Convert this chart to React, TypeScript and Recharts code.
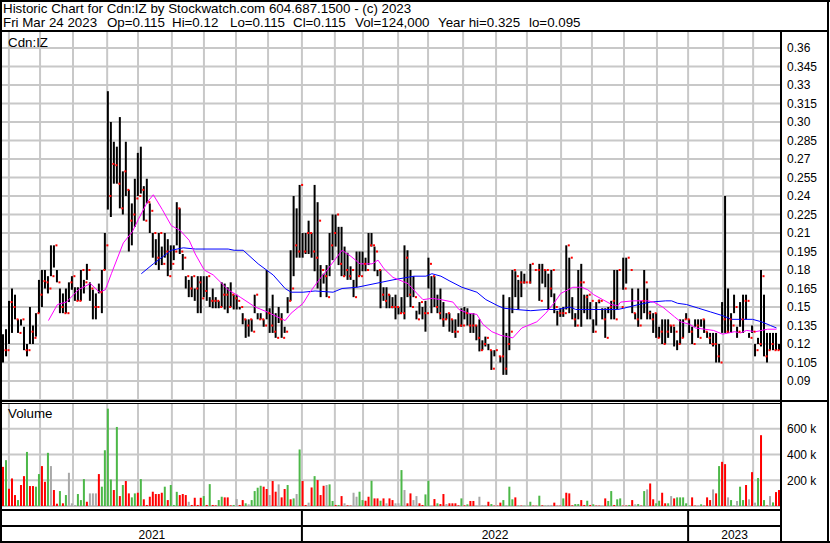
import React from 'react';
import { ComposedChart, Bar, Line, Scatter, XAxis, YAxis, CartesianGrid, Cell } from 'recharts';

const FONT = "'Liberation Sans', Arial, sans-serif";

// ---- price bars (one bar per ~2 trading days, Mar 2021 - Mar 2023) ----
const highs = [
  0.128,0.132,0.155,0.165,0.160,0.140,0.140,0.134,0.120,0.150,
  0.135,0.145,0.172,0.180,0.180,0.175,0.200,0.200,0.180,0.165,
  0.161,0.165,0.170,0.175,0.166,0.166,0.180,0.172,0.185,0.170,
  0.164,0.161,0.169,0.180,0.210,0.325,0.300,0.284,0.280,0.304,
  0.260,0.284,0.245,0.234,0.254,0.275,0.280,0.248,0.254,0.234,
  0.210,0.205,0.210,0.199,0.210,0.205,0.200,0.200,0.235,0.230,
  0.193,0.175,0.172,0.175,0.165,0.175,0.175,0.175,0.175,0.158,
  0.165,0.158,0.155,0.170,0.169,0.166,0.170,0.160,0.160,0.150,
  0.145,0.140,0.140,0.140,0.160,0.145,0.145,0.140,0.180,0.149,
  0.160,0.145,0.150,0.145,0.134,0.158,0.196,0.240,0.230,0.249,
  0.210,0.210,0.220,0.210,0.249,0.235,0.184,0.177,0.184,0.210,
  0.225,0.225,0.215,0.215,0.199,0.194,0.183,0.172,0.195,0.195,
  0.195,0.190,0.210,0.210,0.199,0.180,0.180,0.166,0.166,0.160,
  0.158,0.160,0.150,0.158,0.200,0.196,0.180,0.175,0.147,0.154,
  0.150,0.155,0.190,0.175,0.175,0.160,0.165,0.154,0.145,0.145,
  0.140,0.140,0.145,0.149,0.150,0.149,0.145,0.145,0.135,0.140,
  0.123,0.126,0.120,0.115,0.115,0.110,0.110,0.160,0.129,0.158,
  0.180,0.179,0.172,0.179,0.177,0.170,0.185,0.180,0.180,0.185,
  0.185,0.180,0.177,0.180,0.161,0.147,0.149,0.150,0.200,0.190,
  0.158,0.145,0.180,0.185,0.160,0.160,0.154,0.140,0.154,0.156,
  0.149,0.149,0.150,0.155,0.180,0.180,0.150,0.190,0.190,0.180,
  0.165,0.145,0.165,0.155,0.180,0.165,0.147,0.145,0.145,0.134,
  0.140,0.140,0.140,0.135,0.134,0.123,0.140,0.140,0.145,0.140,
  0.134,0.140,0.140,0.140,0.140,0.130,0.129,0.129,0.129,0.120,
  0.154,0.240,0.165,0.145,0.160,0.134,0.154,0.160,0.160,0.129,
  0.135,0.120,0.125,0.180,0.160,0.129,0.129,0.129,0.129,0.120,
];
const lows = [
  0.105,0.110,0.120,0.129,0.140,0.129,0.135,0.115,0.110,0.120,
  0.120,0.126,0.145,0.150,0.165,0.161,0.175,0.182,0.170,0.145,
  0.145,0.145,0.154,0.164,0.155,0.155,0.155,0.161,0.172,0.155,
  0.140,0.140,0.161,0.145,0.180,0.229,0.223,0.250,0.250,0.230,
  0.225,0.240,0.195,0.200,0.215,0.240,0.242,0.220,0.234,0.210,
  0.190,0.184,0.180,0.184,0.190,0.175,0.180,0.188,0.200,0.193,
  0.180,0.165,0.158,0.158,0.155,0.145,0.145,0.158,0.155,0.150,
  0.149,0.149,0.149,0.150,0.148,0.145,0.150,0.148,0.148,0.148,
  0.136,0.125,0.126,0.130,0.145,0.140,0.140,0.134,0.140,0.129,
  0.129,0.125,0.137,0.125,0.129,0.145,0.155,0.175,0.190,0.190,
  0.190,0.193,0.193,0.190,0.179,0.165,0.158,0.169,0.158,0.175,
  0.188,0.199,0.184,0.175,0.175,0.172,0.172,0.158,0.166,0.175,
  0.179,0.179,0.184,0.199,0.179,0.175,0.149,0.155,0.149,0.149,
  0.149,0.140,0.144,0.145,0.140,0.158,0.150,0.158,0.140,0.144,
  0.140,0.130,0.165,0.145,0.150,0.145,0.140,0.134,0.140,0.130,
  0.129,0.125,0.134,0.134,0.140,0.135,0.129,0.129,0.123,0.114,
  0.115,0.118,0.115,0.099,0.110,0.110,0.105,0.095,0.095,0.115,
  0.145,0.158,0.148,0.158,0.169,0.170,0.169,0.180,0.180,0.155,
  0.169,0.166,0.148,0.158,0.145,0.135,0.142,0.142,0.148,0.145,
  0.140,0.134,0.140,0.134,0.145,0.140,0.140,0.129,0.135,0.153,
  0.140,0.125,0.145,0.140,0.140,0.148,0.150,0.164,0.169,0.180,
  0.145,0.140,0.134,0.140,0.145,0.140,0.140,0.129,0.125,0.125,
  0.120,0.120,0.125,0.129,0.118,0.115,0.120,0.125,0.140,0.129,
  0.120,0.134,0.125,0.134,0.129,0.125,0.120,0.118,0.105,0.105,
  0.129,0.129,0.129,0.129,0.145,0.125,0.134,0.129,0.140,0.125,
  0.129,0.110,0.120,0.118,0.110,0.105,0.115,0.115,0.115,0.115,
];
const closes = [
  0.115,0.115,0.154,0.150,0.140,0.129,0.140,0.115,0.115,0.130,
  0.125,0.145,0.160,0.171,0.170,0.165,0.175,0.200,0.170,0.150,
  0.145,0.145,0.170,0.175,0.155,0.155,0.180,0.170,0.180,0.165,
  0.150,0.150,0.162,0.180,0.200,0.240,0.266,0.265,0.250,0.230,
  0.260,0.245,0.220,0.225,0.238,0.240,0.245,0.220,0.235,0.228,
  0.210,0.190,0.210,0.185,0.195,0.175,0.185,0.195,0.230,0.195,
  0.190,0.175,0.165,0.175,0.165,0.170,0.157,0.163,0.175,0.155,
  0.155,0.155,0.150,0.160,0.160,0.150,0.160,0.157,0.155,0.150,
  0.140,0.135,0.140,0.130,0.160,0.140,0.140,0.135,0.145,0.135,
  0.130,0.125,0.140,0.125,0.130,0.155,0.165,0.200,0.195,0.249,
  0.195,0.210,0.210,0.195,0.190,0.220,0.180,0.175,0.158,0.200,
  0.210,0.225,0.185,0.175,0.180,0.175,0.180,0.158,0.175,0.175,
  0.185,0.180,0.200,0.200,0.195,0.180,0.160,0.155,0.160,0.150,
  0.150,0.150,0.145,0.145,0.190,0.160,0.150,0.158,0.140,0.154,
  0.145,0.145,0.185,0.175,0.150,0.145,0.140,0.140,0.145,0.140,
  0.130,0.130,0.135,0.135,0.145,0.135,0.135,0.135,0.125,0.115,
  0.120,0.125,0.115,0.100,0.115,0.110,0.110,0.100,0.120,0.130,
  0.180,0.175,0.170,0.170,0.170,0.170,0.185,0.180,0.180,0.155,
  0.180,0.180,0.165,0.180,0.150,0.145,0.145,0.145,0.200,0.190,
  0.140,0.135,0.170,0.170,0.158,0.160,0.155,0.130,0.155,0.155,
  0.140,0.125,0.150,0.155,0.140,0.180,0.150,0.165,0.190,0.180,
  0.145,0.140,0.135,0.155,0.170,0.145,0.140,0.145,0.125,0.130,
  0.120,0.130,0.135,0.135,0.130,0.120,0.125,0.140,0.140,0.130,
  0.120,0.135,0.125,0.140,0.130,0.125,0.120,0.120,0.110,0.105,
  0.140,0.130,0.140,0.135,0.150,0.130,0.140,0.155,0.155,0.125,
  0.130,0.115,0.120,0.175,0.110,0.115,0.120,0.115,0.115,0.115,
];

// ---- volume (thousands of shares) and direction: u = up, d = down, n = unchanged ----
const volumes = [
  304,356,134,214,85,46,163,232,420,155,
  155,150,248,310,188,413,310,124,18,116,
  21,85,258,21,8,93,46,209,33,98,
  98,98,248,150,433,756,206,124,614,77,
  163,194,98,67,98,103,209,52,8,72,
  111,93,93,103,150,46,163,8,110,85,
  93,85,33,8,64,8,64,77,8,170,
  8,5,46,72,67,67,5,8,54,8,
  46,21,13,46,116,142,157,150,132,85,
  194,111,168,67,132,163,52,59,93,439,
  194,8,26,144,232,201,85,157,163,168,
  39,8,8,77,21,5,3,103,72,111,
  46,41,72,196,59,59,41,59,21,59,
  46,21,21,279,124,21,98,46,77,21,
  8,90,196,3,54,21,15,93,15,21,
  21,21,5,59,5,13,39,39,3,72,
  8,8,33,15,3,3,26,46,2,150,
  52,67,3,3,2,3,33,3,2,80,
  5,2,8,8,26,2,3,59,103,98,
  5,15,15,46,8,41,8,13,3,3,
  3,59,39,116,8,52,59,3,3,8,
  46,13,15,3,116,129,175,52,21,41,
  103,21,21,77,59,67,67,67,21,3,
  67,3,3,13,3,67,46,129,98,310,
  343,325,67,46,3,39,150,46,163,52,
  263,26,217,550,46,3,77,28,108,124,
];
const volumeDirs = (
  'duddduddud' + 'duuddunddu' + 'dunnnuuudn' + 'nnduuuudud' + 'udduududdd' +
  'dddduduuud' + 'ddnddddudu' + 'dduudddund' + 'dunuuuuddn' + 'ddnddudunu' +
  'ddndudddnu' + 'ududnddnnu' + 'udduddudnd' + 'dnnunddnnd' + 'duunduddnd' +
  'dddududdnn' + 'nnduddduuu' + 'ududuuuddu' + 'dunndddudd' + 'duuddududd' +
  'nduuduuddu' + 'dnudundduu' + 'ddunduuuuu' + 'ddnudddndu' + 'ddnuunuudn' +
  'dnududnudd'
).split('');

// ---- moving averages (bar index, value) ----
const fastMaAt = [15,18,21,25,29,32,34,36,40,43,45,48,50,53,56,59,62,64,67,70,75,79,84,88,94,96,100,102,105,108,113,116,119,123,125,127,130,132,135,138,140,143,146,150,152,155,158,160,163,166,170,173,178,181,184,186,190,193,195,197,200,203,205,206,210,215,217,220,224,226,229,231,234,237,240,244,246,248,251,255,258];
const fastMa = [0.139,0.152,0.154,0.164,0.169,0.162,0.164,0.177,0.202,0.211,0.221,0.235,0.241,0.229,0.216,0.212,0.204,0.193,0.18,0.176,0.164,0.158,0.15,0.146,0.139,0.145,0.153,0.161,0.171,0.18,0.196,0.191,0.185,0.185,0.188,0.181,0.174,0.172,0.169,0.161,0.156,0.157,0.156,0.154,0.148,0.145,0.144,0.136,0.13,0.127,0.125,0.133,0.138,0.145,0.154,0.161,0.166,0.166,0.164,0.16,0.156,0.152,0.151,0.154,0.155,0.155,0.154,0.15,0.142,0.138,0.136,0.133,0.132,0.131,0.128,0.13,0.129,0.131,0.13,0.132,0.132];
const slowMaAt = [46,50,56,60,64,75,77,80,85,90,94,96,100,104,110,113,118,124,130,137,141,143,146,149,153,158,161,165,167,171,176,181,185,189,191,196,200,205,207,212,216,221,223,225,228,232,236,240,243,246,250,253,256,258];
const slowMa = [0.177,0.185,0.196,0.198,0.197,0.197,0.196,0.196,0.185,0.176,0.165,0.162,0.162,0.163,0.162,0.165,0.166,0.169,0.172,0.175,0.175,0.177,0.175,0.171,0.166,0.162,0.156,0.151,0.149,0.148,0.147,0.148,0.148,0.15,0.148,0.148,0.148,0.148,0.149,0.152,0.154,0.155,0.155,0.153,0.152,0.149,0.146,0.143,0.14,0.14,0.14,0.138,0.135,0.133];

// ---- axes ----
const priceTicks = [0.09,0.105,0.12,0.135,0.15,0.165,0.18,0.195,0.21,0.225,0.24,0.255,0.27,0.285,0.30,0.315,0.33,0.345,0.36];
const priceTickLabels = ['0.09','0.105','0.12','0.135','0.15','0.165','0.18','0.195','0.21','0.225','0.24','0.255','0.27','0.285','0.30','0.315','0.33','0.345','0.36'];
const volumeTicks = [200, 400, 600];
const monthStarts = [2.3,12.7,23.7,35.1,45.4,56.7,67.4,78.1,88.8,100.1,111.1,120.5,132.2,142.2,153.9,164.9,175.2,186.6,196.9,207.6,218.6,229.0,240.7,250.7];
const years = ['2021', '2022', '2023'];
const yearStarts = [0, 100.1, 229.0];
const BAR_COUNT = 260;

const headerLine1 = 'Historic Chart for Cdn:IZ by Stockwatch.com 604.687.1500 - (c) 2023';
const headerFields = ['Fri Mar 24 2023', 'Op=0.115', 'Hi=0.12', 'Lo=0.115', 'Cl=0.115', 'Vol=124,000', 'Year hi=0.325', 'lo=0.095'];
const headerFieldLeft = [3, 107, 172, 230, 293, 355, 438, 529];

// ---- tables for the library ----
const bars = highs.map((h, i) => ({ x: i + 0.5, range: [lows[i], h], close: closes[i] }));
const fastData = fastMaAt.map((at, k) => ({ x: at + 0.5, v: fastMa[k] }));
const slowData = slowMaAt.map((at, k) => ({ x: at + 0.5, v: slowMa[k] }));
const volData = volumes.map((v, i) => ({ x: i + 0.5, vol: v, dir: volumeDirs[i] }));
const dirColor: Record<string, string> = { u: '#4cb848', d: '#ff0000', n: '#a8a8a8' };
const yearBoundaries = yearStarts.slice(1);
const yearMids = yearStarts.map((s, k) => (s + (k + 1 < yearStarts.length ? yearStarts[k + 1] : BAR_COUNT)) / 2);
const yearTicks = [...yearMids, ...yearBoundaries].sort((a, b) => a - b);

const GRID = '#c8c8c8';

// month grid lines placed through the x axis scale of the chart
const monthGrid = (props: any) => {
  const xAxis = props && props.xAxis;
  if (xAxis && typeof xAxis.scale === 'function') {
    return monthStarts.map((m) => xAxis.scale(m));
  }
  const off = props.offset;
  return monthStarts.map((m) => off.left + (m / BAR_COUNT) * off.width);
};

const CloseTick = (props: any) => {
  const { cx, cy } = props;
  if (cx == null || cy == null) return <g />;
  return <rect x={cx + 1} y={cy - 1} width={2} height={2} fill="#ff0000" />;
};

const VolShape = (props: any) => {
  const { x, y, width, height, fill } = props;
  if (x == null || y == null) return <g />;
  return <rect x={x} y={y} width={width} height={Math.max(0, height) + 3} fill={fill} />;
};

const YearTick = (props: any) => {
  const { x, y, payload } = props;
  const v = payload.value;
  const bIdx = yearBoundaries.findIndex((b) => Math.abs(b - v) < 1e-6);
  if (bIdx >= 0) {
    return <line x1={x} x2={x} y1={y + 4} y2={y + 36} stroke="#000" strokeWidth={2} />;
  }
  const mIdx = yearMids.findIndex((m) => Math.abs(m - v) < 1e-6);
  return (
    <text x={x} y={y + 33} textAnchor="middle" fontSize={12} fontFamily={FONT} fill="#000">
      {years[mIdx]}
    </text>
  );
};

const hLine = (top: number, left: number, width: number, height: number) => (
  <div style={{ position: 'absolute', top, left, width, height, background: '#000' }} />
);

export default function App() {
  return (
    <div
      style={{
        position: 'absolute', left: 0, top: 0, width: 830, height: 543,
        background: '#fff', overflow: 'hidden', fontFamily: FONT, color: '#000',
      }}
    >
      {/* header */}
      <div style={{ position: 'absolute', left: 3, top: 1, fontSize: 13.33, lineHeight: '15px', whiteSpace: 'pre' }}>
        {headerLine1}
      </div>
      {headerFields.map((f, k) => (
        <div key={k} style={{ position: 'absolute', left: headerFieldLeft[k], top: 15, fontSize: 13.33, lineHeight: '15px', whiteSpace: 'pre' }}>
          {f}
        </div>
      ))}

      {/* price panel */}
      <div style={{ position: 'absolute', left: 0, top: 31 }}>
        <ComposedChart width={830} height={369} data={bars} margin={{ top: 0, right: 2, bottom: 0, left: 2 }}>
          <CartesianGrid stroke={GRID} strokeWidth={2} verticalCoordinatesGenerator={monthGrid} />
          <XAxis
            type="number" dataKey="x" domain={[0, BAR_COUNT]} ticks={monthStarts} allowDataOverflow
            height={0} tick={false} axisLine={false} tickLine={false}
          />
          <YAxis
            orientation="right" type="number" domain={[0.0746, 0.3738]} ticks={priceTicks} allowDataOverflow
            width={47} interval={0} tickSize={0} tickMargin={6} axisLine={false} tickLine={false}
            tick={{ fontSize: 12, fill: '#000', fontFamily: FONT }}
            tickFormatter={(v: number) => priceTickLabels[priceTicks.indexOf(v)] ?? String(v)}
          />
          <Bar dataKey="range" fill="#000" barSize={2} isAnimationActive={false} />
          <Line data={slowData} dataKey="v" stroke="#0000ff" strokeWidth={1} dot={false} isAnimationActive={false} />
          <Line data={fastData} dataKey="v" stroke="#ff00ff" strokeWidth={1} dot={false} isAnimationActive={false} />
          <Scatter data={bars} dataKey="close" shape={CloseTick} isAnimationActive={false} />
        </ComposedChart>
      </div>

      {/* volume panel + date axis */}
      <div style={{ position: 'absolute', left: 0, top: 403 }}>
        <ComposedChart width={830} height={139} data={volData} margin={{ top: 0, right: 2, bottom: 0, left: 2 }}>
          <CartesianGrid stroke={GRID} strokeWidth={2} verticalCoordinatesGenerator={monthGrid} />
          <XAxis
            type="number" dataKey="x" domain={[0, BAR_COUNT]} ticks={monthStarts} allowDataOverflow
            height={0} tick={false} axisLine={false} tickLine={false}
          />
          <XAxis
            xAxisId="yr" type="number" dataKey="x" domain={[0, BAR_COUNT]} ticks={yearTicks} allowDataOverflow
            height={36} interval={0} tickSize={0} tickMargin={0} axisLine={false} tickLine={false}
            tick={<YearTick />}
          />
          <YAxis
            orientation="right" type="number" domain={[0, 800]} ticks={volumeTicks} allowDataOverflow
            width={47} interval={0} tickSize={0} tickMargin={6} axisLine={false} tickLine={false}
            tick={{ fontSize: 12, fill: '#000', fontFamily: FONT }}
            tickFormatter={(v: number) => `${v} k`}
          />
          <Bar dataKey="vol" barSize={2} shape={VolShape} isAnimationActive={false}>
            {volData.map((d, i) => (
              <Cell key={i} fill={dirColor[d.dir] || '#a8a8a8'} />
            ))}
          </Bar>
        </ComposedChart>
      </div>

      {/* panel labels */}
      <div style={{ position: 'absolute', left: 8, top: 35, fontSize: 13.33, lineHeight: '15px' }}>Cdn:IZ</div>
      <div style={{ position: 'absolute', left: 8, top: 406, fontSize: 13.33, lineHeight: '15px' }}>Volume</div>

      {/* frame */}
      {hLine(0, 0, 830, 2)}
      {hLine(541, 0, 830, 2)}
      {hLine(0, 0, 2, 543)}
      {hLine(0, 827, 2, 543)}
      {hLine(30, 0, 829, 2)}
      {hLine(31, 780, 2, 511)}
      {hLine(400, 0, 829, 2)}
      {hLine(403, 0, 781, 1)}
      {hLine(509, 0, 782, 2)}
      {hLine(525, 0, 782, 2)}
    </div>
  );
}
